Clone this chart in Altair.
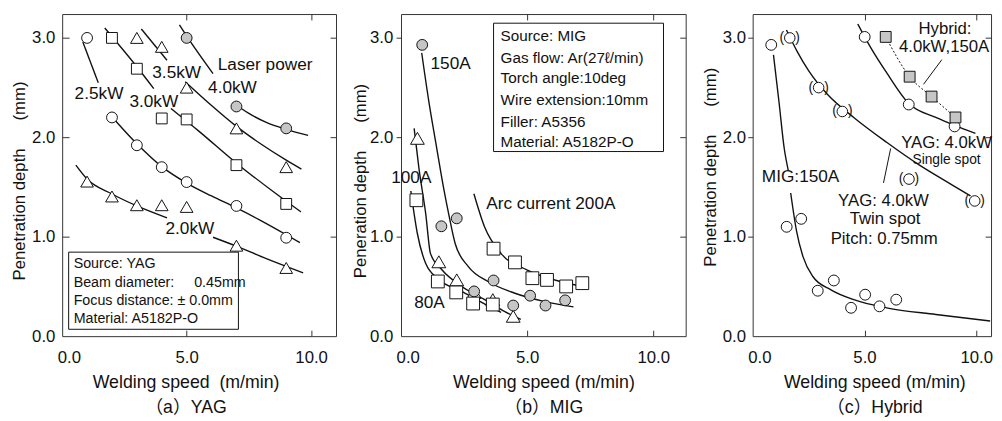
import altair as alt
import pandas as pd

FONT = "Liberation Sans, Arial, Noto Sans CJK JP, sans-serif"
INK = "#111111"
FRAME = "#333333"
GRAY = "#c6c6c6"
YMAX = 3.24
H = 327
NB = "\u00a0"

# ---------------- panel (a) YAG ----------------
A_WIDTH = 278
A_XMAX = 11.0
A_20KW_X = [1, 2, 3, 4, 5, 7, 9]
A_20KW_Y = [1.555, 1.405, 1.317, 1.317, 1.30, 0.91, 0.686]
A_25KW_X = [1, 2, 3, 4, 5, 7, 9]
A_25KW_Y = [3.0, 2.2, 1.92, 1.70, 1.55, 1.31, 0.99]
A_30KW_X = [2, 3, 4, 5, 7, 9]
A_30KW_Y = [3.0, 2.69, 2.19, 2.18, 1.72, 1.33]
A_35KW_X = [3, 4, 5, 7, 9]
A_35KW_Y = [3.0, 2.91, 2.50, 2.09, 1.70]
A_40KW_X = [5, 7, 9]
A_40KW_Y = [3.0, 2.31, 2.09]

A_CURVE_20 = [[(0.55, 1.72), (1.0, 1.58), (2.0, 1.43), (3.0, 1.31), (4.21, 1.19)],
              [(6.06, 0.995), (7.0, 0.905), (8.2, 0.78), (9.68, 0.637)]]
A_CURVE_25 = [[(0.83, 2.96), (1.45, 2.55)],
              [(1.97, 2.215), (3.0, 1.935), (4.0, 1.705), (5.0, 1.54), (6.0, 1.41),
               (7.0, 1.29), (8.0, 1.16), (9.0, 1.02), (9.55, 0.94)]]
A_CURVE_30 = [[(1.71, 3.10), (3.0, 2.71), (3.68, 2.49)],
              [(4.37, 2.29), (5.5, 2.06), (7.0, 1.74), (8.5, 1.45), (9.59, 1.25)]]
A_CURVE_35 = [[(3.18, 3.09), (4.21, 2.775)],
              [(4.94, 2.56), (6.0, 2.32), (7.0, 2.11), (8.0, 1.93), (9.0, 1.77), (9.61, 1.68)]]
A_CURVE_40 = [[(4.71, 3.13), (5.03, 3.007), (6.06, 2.64)],
              [(6.85, 2.35), (7.5, 2.24), (8.2, 2.15), (9.0, 2.08), (9.88, 2.02)]]

A_LABELS = [(6.25, 2.726, "Laser power"), (5.86, 2.495, "4.0kW"), (3.62, 2.644, "3.5kW"),
            (0.50, 2.439, "2.5kW"), (2.70, 2.356, "3.0kW"), (4.15, 1.076, "2.0kW")]
A_BOX = (0.26, 7.08, 0.069, 0.845)
A_BOX_LINES = [(0.46, 0.723, "Source: YAG"),
               (0.46, 0.532, "Beam diameter:" + NB * 5 + "0.45mm"),
               (0.46, 0.350, "Focus distance: ± 0.0mm"),
               (0.46, 0.168, "Material: A5182P-O")]

# ---------------- panel (b) MIG ----------------
B_WIDTH = 289
B_XMAX = 11.29
B_150A_X = [0.84, 1.60, 2.21, 2.90, 3.67, 4.45, 5.12, 5.73, 6.51]
B_150A_Y = [2.93, 1.105, 1.185, 0.45, 0.56, 0.308, 0.407, 0.308, 0.36]
B_100A_X = [0.65, 1.50, 2.21, 2.90, 3.64, 4.45]
B_100A_Y = [1.99, 0.748, 0.566, 0.44, 0.367, 0.20]
B_80A_X = [0.61, 1.46, 2.19, 2.86, 3.64]
B_80A_Y = [1.367, 0.55, 0.44, 0.328, 0.318]
B_200A_X = [3.67, 4.52, 5.21, 5.79, 6.55, 7.19]
B_200A_Y = [0.88, 0.742, 0.583, 0.566, 0.50, 0.533]

B_CURVE_150 = [[(0.82, 2.85), (1.11, 2.35), (1.37, 1.96), (1.69, 1.49), (1.89, 1.23), (2.15, 0.93),
                (2.67, 0.70), (3.45, 0.55), (4.49, 0.434), (5.66, 0.35), (6.84, 0.295)]]
B_CURVE_100 = [[(0.52, 2.09), (0.71, 1.69), (0.98, 1.23), (1.17, 0.83), (1.63, 0.665),
                (2.41, 0.50), (3.32, 0.367), (4.10, 0.25), (4.75, 0.169)]]
B_CURVE_80 = [[(0.39, 1.46), (0.65, 1.03), (0.98, 0.73), (1.5, 0.57), (2.41, 0.45),
               (3.2, 0.34), (3.97, 0.24)]]
B_CURVE_200 = [[(2.89, 1.433), (3.32, 1.095), (3.97, 0.83), (5.01, 0.665), (6.31, 0.55), (7.33, 0.494)]]

B_LABELS = [(1.17, 2.733, "150A"), (-0.39, 1.592, "100A"),
            (3.38, 1.333, "Arc current 200A"), (0.52, 0.333, "80A")]
B_BOX = (3.67, 10.41, 1.857, 3.148)
B_BOX_LINES = [(3.95, 3.016, "Source: MIG"),
               (3.95, 2.800, "Gas flow: Ar(27ℓ/min)"),
               (3.95, 2.592, "Torch angle:10deg"),
               (3.95, 2.370, "Wire extension:10mm"),
               (3.95, 2.158, "Filler: A5356"),
               (3.95, 1.956, "Material: A5182P-O")]

# ---------------- panel (c) Hybrid ----------------
C_WIDTH = 242
C_XMAX = 10.66
C_MIG_X = [0.83, 1.52, 2.17, 2.91, 3.63, 4.40, 5.03, 5.67, 6.42]
C_MIG_Y = [2.93, 1.10, 1.18, 0.457, 0.56, 0.285, 0.417, 0.30, 0.367]
C_TWIN_X = [1.66, 2.95, 4.01, 6.99, 9.93]
C_TWIN_Y = [3.0, 2.50, 2.26, 1.58, 1.36]
C_SINGLE_X = [5.01, 6.98, 9.03]
C_SINGLE_Y = [3.01, 2.33, 2.11]
C_HYBRID_X = [5.95, 7.02, 8.0, 9.07]
C_HYBRID_Y = [3.01, 2.61, 2.41, 2.20]

C_CURVE_MIG = [[(0.93, 2.83), (1.18, 2.35), (1.41, 1.89), (1.59, 1.67)],
               [(1.70, 1.44), (1.96, 1.06), (2.25, 0.80), (2.69, 0.60), (3.50, 0.466),
                (4.52, 0.367), (5.99, 0.285), (8.19, 0.218), (10.62, 0.152)]]
C_CURVE_TWIN = [[(1.51, 3.08), (2.0, 2.86), (2.5, 2.67), (3.35, 2.43), (4.52, 2.20),
                 (5.99, 1.95), (7.46, 1.72), (8.93, 1.52), (9.74, 1.41)]]
C_CURVE_SINGLE = [[(4.70, 3.14), (5.26, 2.91), (5.99, 2.65), (6.98, 2.34), (8.19, 2.20),
                   (9.03, 2.12), (9.96, 2.04)]]

C_LABELS_CENTER = [(8.60, 3.09, "Hybrid:"), (8.56, 2.909, "4.0kW,150A"), (8.67, 1.945, "YAG: 4.0kW"),
                   (5.85, 1.354, "YAG: 4.0kW"), (5.92, 1.173, "Twin spot"), (5.88, 0.972, "Pitch: 0.75mm")]
C_LABELS_SMALL = [(8.67, 1.775, "Single spot")]
C_LABELS_LEFT = [(0.41, 1.602, "MIG:150A")]
C_LEADERS = [((7.64, 2.533), (8.46, 2.781)), ((5.85, 1.541), (6.17, 1.888))]

SY = alt.Scale(domain=[0, YMAX], nice=False, zero=False)


def xscale(xmax):
    return alt.Scale(domain=[0, xmax], nice=False, zero=False)


def XE(sc):
    return alt.X("x:Q", scale=sc, axis=None)


def YE():
    return alt.Y("y:Q", scale=SY, axis=None)


def points(xs, ys, sc, shape, size, fill):
    df = pd.DataFrame({"x": xs, "y": ys})
    return alt.Chart(df).mark_point(shape=shape, size=size, filled=True, fill=fill,
                                    stroke=INK, strokeWidth=1, opacity=1).encode(x=XE(sc), y=YE())


def curves(segs, sc, width=1.4, dash=None):
    rows = []
    for i, seg in enumerate(segs):
        for j, (x, y) in enumerate(seg):
            rows.append({"x": x, "y": y, "seg": i, "o": j})
    kw = dict(interpolate="monotone", color=INK, strokeWidth=width)
    if dash:
        kw["strokeDash"] = dash
    return alt.Chart(pd.DataFrame(rows)).mark_line(**kw).encode(
        x=XE(sc), y=YE(), detail="seg:N", order="o:Q")


def texts(items, sc, size, align="left", dx=0):
    df = pd.DataFrame(items, columns=["x", "y", "t"])
    return alt.Chart(df).mark_text(align=align, baseline="middle", font=FONT, fontSize=size,
                                   color=INK, dx=dx).encode(x=XE(sc), y=YE(), text="t:N")


def box(b, sc):
    df = pd.DataFrame({"x": [b[0]], "x2": [b[1]], "y": [b[2]], "y2": [b[3]]})
    return alt.Chart(df).mark_rect(fill="white", stroke=INK, strokeWidth=1).encode(
        x=XE(sc), x2="x2:Q", y=YE(), y2="y2:Q")


def leaders(items, sc):
    df = pd.DataFrame([{"x": a[0], "y": a[1], "x2": b[0], "y2": b[1]} for a, b in items])
    return alt.Chart(df).mark_rule(color=INK, strokeWidth=1).encode(
        x=XE(sc), y=YE(), x2="x2:Q", y2="y2:Q")


def axes(sc, ytitle, xtitle, ytx, yty, xtx, left_in, ylpad):
    base = alt.Chart(pd.DataFrame({"x": [0.0], "y": [0.0]}))
    lab = base.mark_point(opacity=0).encode(
        x=alt.X("x:Q", scale=sc, axis=alt.Axis(
            orient="bottom", values=[0, 5, 10], format=".1f", ticks=False, tickSize=0,
            domain=False, grid=False, labelPadding=14, labelFlush=True, labelFlushOffset=5,
            title=xtitle, titleX=xtx, titleY=38, titleBaseline="top", titleAlign="center",
            titleLineHeight=25.6, titleFontSize=18, minExtent=0)),
        y=alt.Y("y:Q", scale=SY, axis=alt.Axis(
            orient="left", values=[0, 1, 2, 3], format=".1f", ticks=False, tickSize=0,
            domain=False, grid=False, labelPadding=ylpad, labelFlush=False,
            title=ytitle, titleX=ytx, titleY=yty, titleAngle=270, titleBaseline="alphabetic",
            titleAlign="center", titleFontSize=17, minExtent=0)))
    t1 = base.mark_point(opacity=0).encode(
        x=alt.X("x:Q", scale=sc, axis=alt.Axis(
            orient="bottom", values=[5, 10], labels=False, domain=False, grid=False,
            ticks=True, tickSize=6, offset=-6, title=None, minExtent=0)),
        y=alt.Y("y:Q", scale=SY, axis=alt.Axis(
            orient="left", values=[1, 2, 3], labels=False, domain=False, grid=False,
            ticks=True, tickSize=7 if left_in else 5, offset=-7 if left_in else 0,
            title=None, minExtent=0)))
    t2 = base.mark_point(opacity=0).encode(
        x=alt.X("x:Q", scale=sc, axis=alt.Axis(
            orient="top", values=[5, 10], labels=False, domain=False, grid=False,
            ticks=True, tickSize=6, offset=-6, title=None, minExtent=0)),
        y=alt.Y("y:Q", scale=SY, axis=alt.Axis(
            orient="right", values=[1, 2, 3], labels=False, domain=False, grid=False,
            ticks=True, tickSize=6, offset=-6, title=None, minExtent=0)))
    return [lab, t1, t2]


YT1 = "Penetration depth" + NB * 6 + "(mm)"
YT2 = "Peneration depth" + NB * 6 + "(mm)"

# panel a
sa = xscale(A_XMAX)
pa = alt.layer(
    *axes(sa, YT1, ["Welding speed" + NB * 2 + "(m/min)", "（a）YAG"], -38, 169, 125.3, True, 7.4),
    box(A_BOX, sa), texts(A_BOX_LINES, sa, 14.5),
    curves(A_CURVE_20, sa), curves(A_CURVE_25, sa), curves(A_CURVE_30, sa),
    curves(A_CURVE_35, sa), curves(A_CURVE_40, sa),
    points(A_20KW_X, A_20KW_Y, sa, "triangle-up", 165, "white"),
    points(A_25KW_X, A_25KW_Y, sa, "circle", 121, "white"),
    points(A_30KW_X, A_30KW_Y, sa, "square", 121, "white"),
    points(A_35KW_X, A_35KW_Y, sa, "triangle-up", 165, "white"),
    points(A_40KW_X, A_40KW_Y, sa, "circle", 121, GRAY),
    texts(A_LABELS, sa, 17.5),
).resolve_axis(x="independent", y="independent").properties(width=A_WIDTH, height=H)

# panel b
sb = xscale(B_XMAX)
pb = alt.layer(
    *axes(sb, YT2, ["Welding speed (m/min)", "（b）MIG"], -35.7, 169, 144.5, False, 8.4),
    box(B_BOX, sb), texts(B_BOX_LINES, sb, 15.5),
    curves(B_CURVE_150, sb), curves(B_CURVE_100, sb), curves(B_CURVE_80, sb), curves(B_CURVE_200, sb),
    points(B_100A_X, B_100A_Y, sb, "triangle-up", 196, "white"),
    points(B_150A_X, B_150A_Y, sb, "circle", 121, GRAY),
    points(B_80A_X, B_80A_Y, sb, "square", 169, "white"),
    points(B_200A_X, B_200A_Y, sb, "square", 169, "white"),
    texts(B_LABELS, sb, 17.5),
).resolve_axis(x="independent", y="independent").properties(width=B_WIDTH, height=H)

# panel c
sc = xscale(C_XMAX)
C_TWIN = list(zip(C_TWIN_X, C_TWIN_Y))
pc = alt.layer(
    *axes(sc, YT1, ["Welding speed (m/min)", "（c）Hybrid"], -38, 155, 123.5, False, 7.3),
    curves(C_CURVE_MIG, sc), curves(C_CURVE_TWIN, sc), curves(C_CURVE_SINGLE, sc),
    curves([list(zip(C_HYBRID_X, C_HYBRID_Y))], sc, width=1, dash=[2, 2]),
    leaders(C_LEADERS, sc),
    points(C_MIG_X, C_MIG_Y, sc, "circle", 121, "white"),
    points(C_TWIN_X, C_TWIN_Y, sc, "circle", 115, "white"),
    texts([(x, y, "(") for x, y in C_TWIN], sc, 14, align="center", dx=-8),
    texts([(x, y, ")") for x, y in C_TWIN], sc, 14, align="center", dx=8),
    points(C_SINGLE_X, C_SINGLE_Y, sc, "circle", 121, "white"),
    points(C_HYBRID_X, C_HYBRID_Y, sc, "square", 121, GRAY),
    texts(C_LABELS_CENTER, sc, 17, align="center"),
    texts(C_LABELS_SMALL, sc, 14, align="center"),
    texts(C_LABELS_LEFT, sc, 17.5),
).resolve_axis(x="independent", y="independent").properties(width=C_WIDTH, height=H)

chart = alt.hconcat(pa, pb, pc, spacing=14).properties(
    padding={"left": 2, "top": 2, "right": 0, "bottom": 0}
).configure_view(stroke=FRAME, strokeWidth=1).configure_axis(
    labelFont=FONT, labelFontSize=17, labelColor=INK, titleFont=FONT, titleColor=INK,
    titleFontWeight="normal", tickColor=FRAME, tickWidth=1
)

chart.save("out.html", embed_options={"renderer": "svg", "actions": False})
